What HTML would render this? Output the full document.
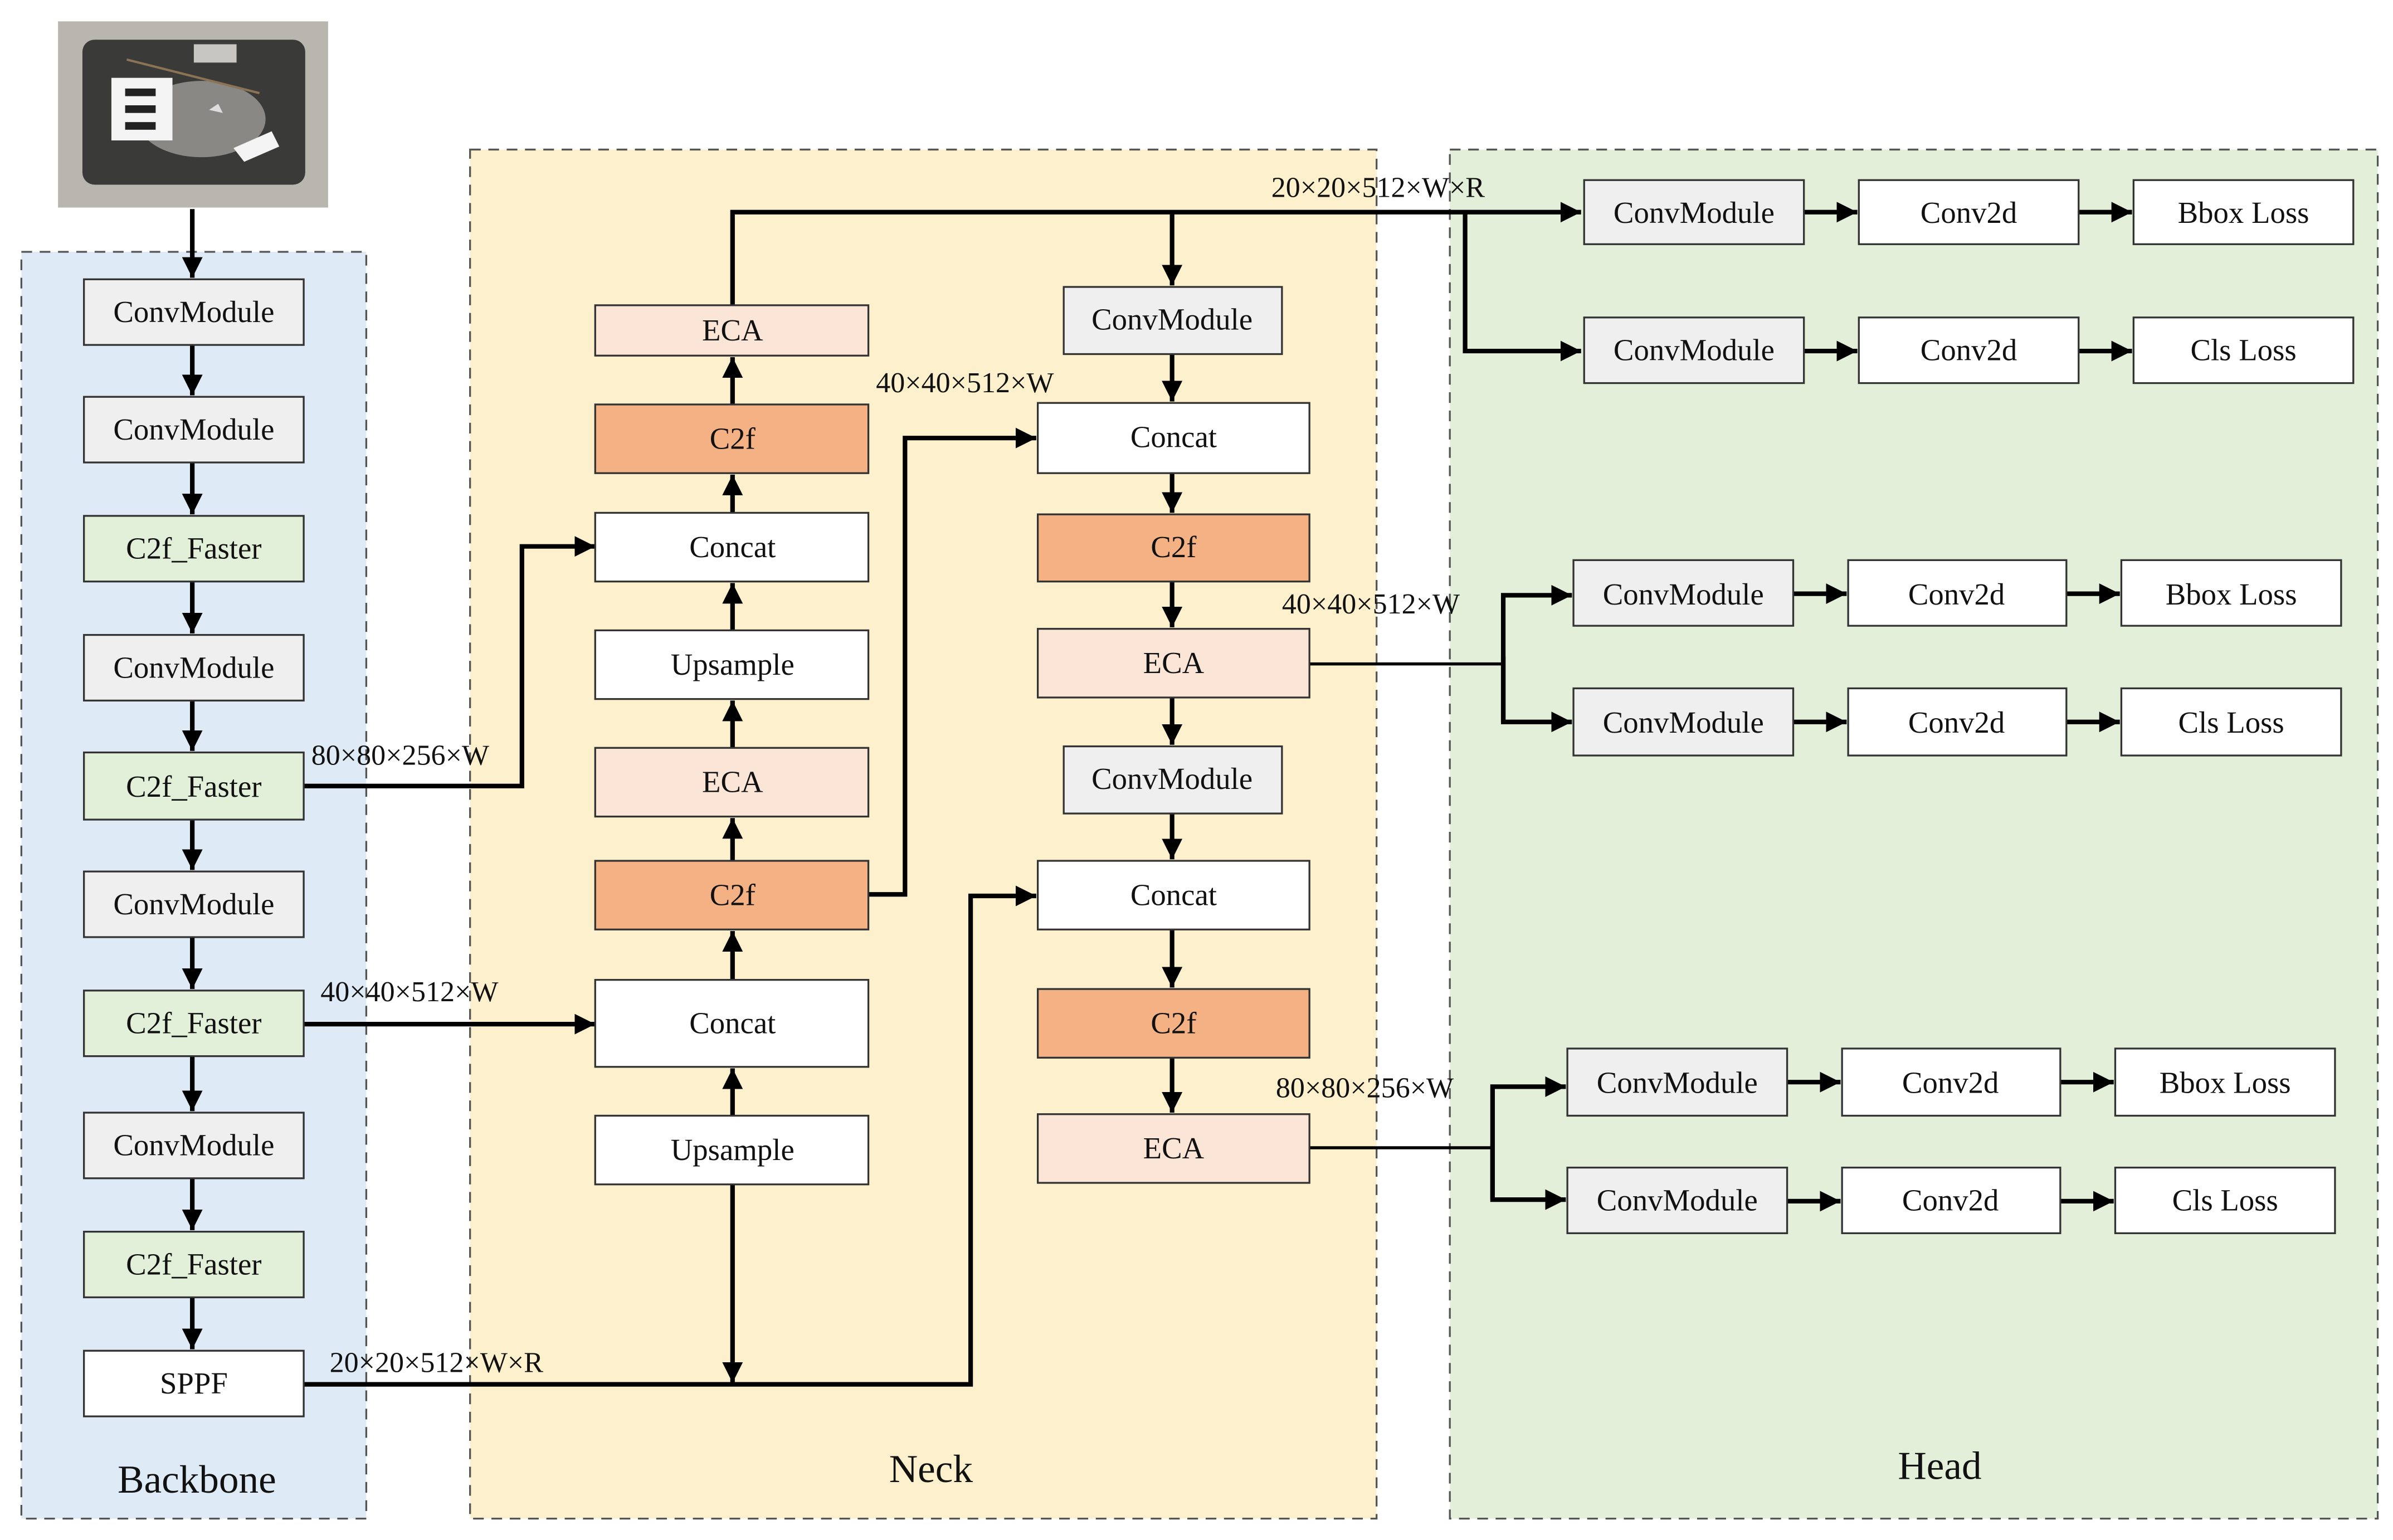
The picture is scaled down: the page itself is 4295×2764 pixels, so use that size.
<!DOCTYPE html>
<html><head><meta charset="utf-8"><style>html,body{margin:0;padding:0;background:#fff}svg{display:block}text{font-family:"Liberation Serif",serif;fill:#111}</style></head>
<body>
<svg width="4295" height="2764" viewBox="0 0 1568 1009" preserveAspectRatio="none" xmlns="http://www.w3.org/2000/svg">
<defs>
<marker id="a" viewBox="0 0 10 10" refX="10" refY="5" markerWidth="4.5" markerHeight="4.5" orient="auto" markerUnits="strokeWidth"><path d="M0,0 L10,5 L0,10 z" fill="#000"/></marker>
</defs>
<!-- panels -->
<rect x="14" y="165" width="226" height="830" fill="#deeaf6" stroke="#555" stroke-width="1.2" stroke-dasharray="7,5"/>
<rect x="308" y="98" width="594" height="897" fill="#fdf0cc" stroke="#555" stroke-width="1.2" stroke-dasharray="7,5"/>
<rect x="950" y="98" width="608" height="897" fill="#e3efd9" stroke="#555" stroke-width="1.2" stroke-dasharray="7,5"/>
<!-- photo -->
<rect x="38" y="14" width="177" height="122" fill="#b9b6b0"/>
<rect x="54" y="26" width="146" height="95" rx="8" fill="#3a3a38"/>
<ellipse cx="132" cy="78" rx="42" ry="25" fill="#8a8884"/>
<rect x="73" y="51" width="40" height="41" fill="#f4f4f4"/>
<rect x="82" y="58" width="20" height="5" fill="#222"/><rect x="82" y="69" width="20" height="5" fill="#222"/><rect x="82" y="80" width="20" height="5" fill="#222"/>
<rect x="127" y="29" width="28" height="12" fill="#c8c6c0"/>
<line x1="83" y1="39" x2="170" y2="61" stroke="#8a7455" stroke-width="1.5"/>
<path d="M153,97 L178,86 L183,96 L160,106 z" fill="#f4f4f4"/>
<path d="M137,72 L143,68 L146,74 z" fill="#ddd"/>
<g stroke="#000" stroke-width="3" fill="none">
<line x1="126" y1="137" x2="126" y2="182" marker-end="url(#a)"/>
<line x1="126" y1="226" x2="126" y2="259" marker-end="url(#a)"/>
<line x1="126" y1="303" x2="126" y2="337" marker-end="url(#a)"/>
<line x1="126" y1="381" x2="126" y2="415" marker-end="url(#a)"/>
<line x1="126" y1="459" x2="126" y2="492" marker-end="url(#a)"/>
<line x1="126" y1="537" x2="126" y2="570" marker-end="url(#a)"/>
<line x1="126" y1="614" x2="126" y2="648" marker-end="url(#a)"/>
<line x1="126" y1="692" x2="126" y2="728" marker-end="url(#a)"/>
<line x1="126" y1="772" x2="126" y2="806" marker-end="url(#a)"/>
<line x1="126" y1="850" x2="126" y2="884" marker-end="url(#a)"/>
<!-- backbone to neck -->
<polyline points="199,515 342,515 342,358 390,358" marker-end="url(#a)"/>
<line x1="199" y1="671" x2="390" y2="671" marker-end="url(#a)"/>
<polyline points="199,907 636,907 636,587 679,587" marker-end="url(#a)"/>
<line x1="480" y1="776" x2="480" y2="906" marker-end="url(#a)"/>
<!-- neck left up -->
<line x1="480" y1="731" x2="480" y2="700" marker-end="url(#a)"/>
<line x1="480" y1="642" x2="480" y2="610" marker-end="url(#a)"/>
<line x1="480" y1="564" x2="480" y2="536" marker-end="url(#a)"/>
<line x1="480" y1="490" x2="480" y2="459" marker-end="url(#a)"/>
<line x1="480" y1="413" x2="480" y2="382" marker-end="url(#a)"/>
<line x1="480" y1="336" x2="480" y2="311" marker-end="url(#a)"/>
<line x1="480" y1="265" x2="480" y2="234" marker-end="url(#a)"/>
<polyline points="480,200 480,139 1036,139" marker-end="url(#a)"/>
<line x1="768" y1="139" x2="768" y2="187" marker-end="url(#a)"/>
<polyline points="960,139 960,230 1036,230" marker-end="url(#a)"/>
<polyline points="569,586 593,586 593,287 679,287" marker-end="url(#a)"/>
<!-- neck right down -->
<line x1="768" y1="232" x2="768" y2="263" marker-end="url(#a)"/>
<line x1="768" y1="310" x2="768" y2="336" marker-end="url(#a)"/>
<line x1="768" y1="381" x2="768" y2="411" marker-end="url(#a)"/>
<line x1="768" y1="457" x2="768" y2="488" marker-end="url(#a)"/>
<line x1="768" y1="533" x2="768" y2="563" marker-end="url(#a)"/>
<line x1="768" y1="609" x2="768" y2="647" marker-end="url(#a)"/>
<line x1="768" y1="693" x2="768" y2="729" marker-end="url(#a)"/>
<!-- to head -->
<polyline points="858,435 985,435" stroke-width="2"/>
<polyline points="985,473 985,390 1030,390" marker-end="url(#a)"/>
<polyline points="985,430 985,473 1030,473" marker-end="url(#a)"/>
<polyline points="858,752 978,752" stroke-width="2"/>
<polyline points="978,786 978,712 1026,712" marker-end="url(#a)"/>
<polyline points="978,750 978,786 1026,786" marker-end="url(#a)"/>
<!-- head rows -->
<line x1="1182" y1="139" x2="1217" y2="139" marker-end="url(#a)"/>
<line x1="1362" y1="139" x2="1397" y2="139" marker-end="url(#a)"/>
<line x1="1182" y1="230" x2="1217" y2="230" marker-end="url(#a)"/>
<line x1="1362" y1="230" x2="1397" y2="230" marker-end="url(#a)"/>
<line x1="1175" y1="389" x2="1210" y2="389" marker-end="url(#a)"/>
<line x1="1354" y1="389" x2="1389" y2="389" marker-end="url(#a)"/>
<line x1="1175" y1="473" x2="1210" y2="473" marker-end="url(#a)"/>
<line x1="1354" y1="473" x2="1389" y2="473" marker-end="url(#a)"/>
<line x1="1171" y1="709" x2="1206" y2="709" marker-end="url(#a)"/>
<line x1="1350" y1="709" x2="1385" y2="709" marker-end="url(#a)"/>
<line x1="1171" y1="787" x2="1206" y2="787" marker-end="url(#a)"/>
<line x1="1350" y1="787" x2="1385" y2="787" marker-end="url(#a)"/>
</g>
<!-- boxes -->
<g stroke="#333" stroke-width="1.2" font-size="20" text-anchor="middle">
<g id="bb">
<rect x="55" y="183" width="144" height="43" fill="#efefef"/>
<rect x="55" y="260" width="144" height="43" fill="#efefef"/>
<rect x="55" y="338" width="144" height="43" fill="#e2f0d9"/>
<rect x="55" y="416" width="144" height="43" fill="#efefef"/>
<rect x="55" y="493" width="144" height="44" fill="#e2f0d9"/>
<rect x="55" y="571" width="144" height="43" fill="#efefef"/>
<rect x="55" y="649" width="144" height="43" fill="#e2f0d9"/>
<rect x="55" y="729" width="144" height="43" fill="#efefef"/>
<rect x="55" y="807" width="144" height="43" fill="#e2f0d9"/>
<rect x="55" y="885" width="144" height="43" fill="#fff"/>
</g>
<rect x="390" y="200" width="179" height="33" fill="#fbe5d6"/>
<rect x="390" y="265" width="179" height="45" fill="#f4b183"/>
<rect x="390" y="336" width="179" height="45" fill="#fff"/>
<rect x="390" y="413" width="179" height="45" fill="#fff"/>
<rect x="390" y="490" width="179" height="45" fill="#fbe5d6"/>
<rect x="390" y="564" width="179" height="45" fill="#f4b183"/>
<rect x="390" y="642" width="179" height="57" fill="#fff"/>
<rect x="390" y="731" width="179" height="45" fill="#fff"/>
<rect x="697" y="188" width="143" height="44" fill="#efefef"/>
<rect x="680" y="264" width="178" height="46" fill="#fff"/>
<rect x="680" y="337" width="178" height="44" fill="#f4b183"/>
<rect x="680" y="412" width="178" height="45" fill="#fbe5d6"/>
<rect x="697" y="489" width="143" height="44" fill="#efefef"/>
<rect x="680" y="564" width="178" height="45" fill="#fff"/>
<rect x="680" y="648" width="178" height="45" fill="#f4b183"/>
<rect x="680" y="730" width="178" height="45" fill="#fbe5d6"/>
<rect x="1038" y="118" width="144" height="42" fill="#efefef"/>
<rect x="1218" y="118" width="144" height="42" fill="#fff"/>
<rect x="1398" y="118" width="144" height="42" fill="#fff"/>
<rect x="1038" y="208" width="144" height="43" fill="#efefef"/>
<rect x="1218" y="208" width="144" height="43" fill="#fff"/>
<rect x="1398" y="208" width="144" height="43" fill="#fff"/>
<rect x="1031" y="367" width="144" height="43" fill="#efefef"/>
<rect x="1211" y="367" width="143" height="43" fill="#fff"/>
<rect x="1390" y="367" width="144" height="43" fill="#fff"/>
<rect x="1031" y="451" width="144" height="44" fill="#efefef"/>
<rect x="1211" y="451" width="143" height="44" fill="#fff"/>
<rect x="1390" y="451" width="144" height="44" fill="#fff"/>
<rect x="1027" y="687" width="144" height="44" fill="#efefef"/>
<rect x="1207" y="687" width="143" height="44" fill="#fff"/>
<rect x="1386" y="687" width="144" height="44" fill="#fff"/>
<rect x="1027" y="765" width="144" height="43" fill="#efefef"/>
<rect x="1207" y="765" width="143" height="43" fill="#fff"/>
<rect x="1386" y="765" width="144" height="43" fill="#fff"/>
</g>
<g font-size="20" text-anchor="middle">
<text x="127" y="211">ConvModule</text>
<text x="127" y="288">ConvModule</text>
<text x="127" y="366">C2f_Faster</text>
<text x="127" y="444">ConvModule</text>
<text x="127" y="522">C2f_Faster</text>
<text x="127" y="599">ConvModule</text>
<text x="127" y="677">C2f_Faster</text>
<text x="127" y="757">ConvModule</text>
<text x="127" y="835">C2f_Faster</text>
<text x="127" y="913">SPPF</text>
<text x="480" y="223">ECA</text>
<text x="480" y="294">C2f</text>
<text x="480" y="365">Concat</text>
<text x="480" y="442">Upsample</text>
<text x="480" y="519">ECA</text>
<text x="480" y="593">C2f</text>
<text x="480" y="677">Concat</text>
<text x="480" y="760">Upsample</text>
<text x="768" y="216">ConvModule</text>
<text x="769" y="293">Concat</text>
<text x="769" y="365">C2f</text>
<text x="769" y="441">ECA</text>
<text x="768" y="517">ConvModule</text>
<text x="769" y="593">Concat</text>
<text x="769" y="677">C2f</text>
<text x="769" y="759">ECA</text>
<text x="1110" y="146">ConvModule</text><text x="1290" y="146">Conv2d</text><text x="1470" y="146">Bbox Loss</text>
<text x="1110" y="236">ConvModule</text><text x="1290" y="236">Conv2d</text><text x="1470" y="236">Cls Loss</text>
<text x="1103" y="396">ConvModule</text><text x="1282" y="396">Conv2d</text><text x="1462" y="396">Bbox Loss</text>
<text x="1103" y="480">ConvModule</text><text x="1282" y="480">Conv2d</text><text x="1462" y="480">Cls Loss</text>
<text x="1099" y="716">ConvModule</text><text x="1278" y="716">Conv2d</text><text x="1458" y="716">Bbox Loss</text>
<text x="1099" y="793">ConvModule</text><text x="1278" y="793">Conv2d</text><text x="1458" y="793">Cls Loss</text>
</g>
<g font-size="19">
<text x="204" y="501">80×80×256×W</text>
<text x="210" y="656">40×40×512×W</text>
<text x="216" y="899">20×20×512×W×R</text>
<text x="574" y="257">40×40×512×W</text>
<text x="833" y="129">20×20×512×W×R</text>
<text x="840" y="402">40×40×512×W</text>
<text x="836" y="719">80×80×256×W</text>
</g>
<g font-size="26" text-anchor="middle">
<text x="129" y="978">Backbone</text>
<text x="610" y="971">Neck</text>
<text x="1271" y="969">Head</text>
</g>
</svg>
</body></html>
